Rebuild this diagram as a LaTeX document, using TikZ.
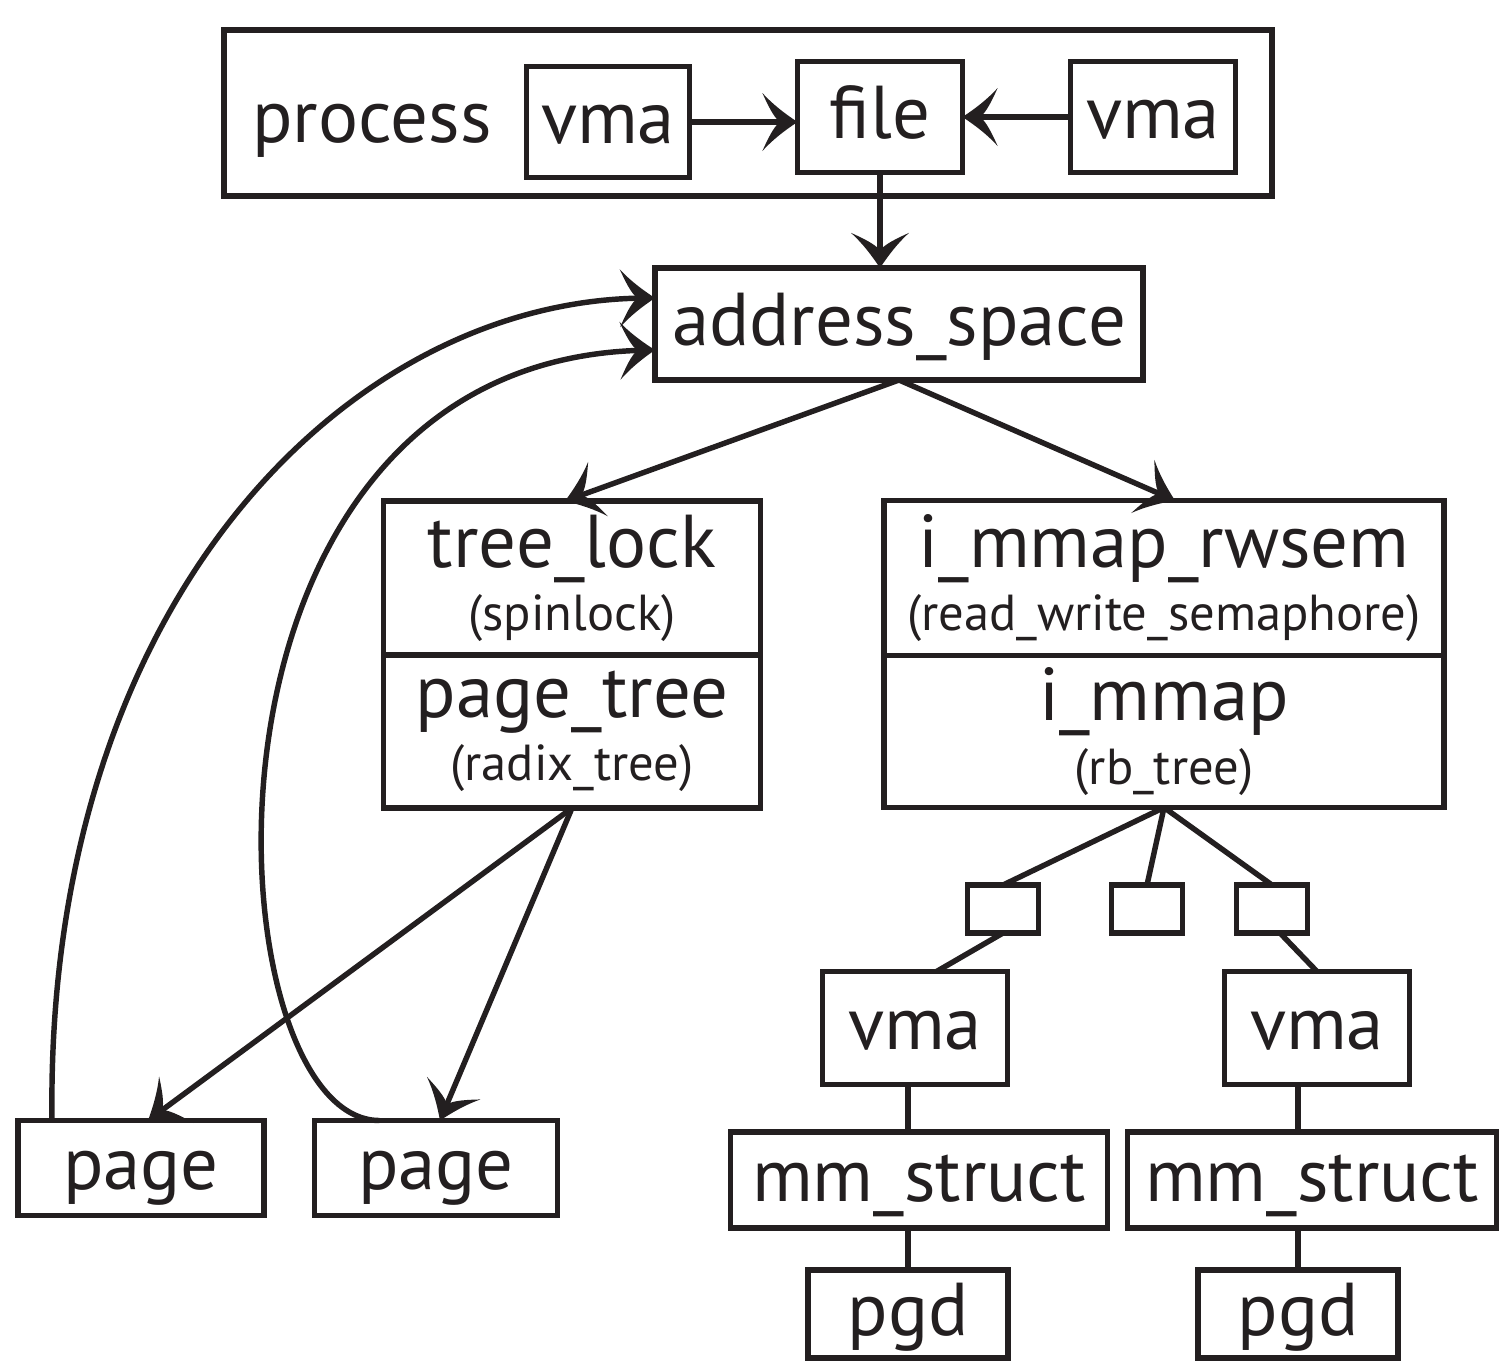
\documentclass[tikz,border=0pt]{standalone}
\usepackage{fontspec}
\setmainfont{PT Sans}
\usetikzlibrary{arrows.meta}

\definecolor{ink}{RGB}{35,31,32}

% swept barb head with curved flanks
\pgfdeclarearrow{
  name = Barb,
  defaults = {length = 9pt, width = 16pt},
  setup code = {
    \pgfarrowssettipend{0pt}
    \pgfarrowssetlineend{-0.3\pgfarrowlength}
    \pgfarrowsupperhullpoint{-\pgfarrowlength}{0.5\pgfarrowwidth}
    \pgfarrowshullpoint{0pt}{0pt}
    \pgfarrowssavethe\pgfarrowlength
    \pgfarrowssavethe\pgfarrowwidth
  },
  drawing code = {
    \pgfpathmoveto{\pgfqpoint{0pt}{0pt}}
    \pgfpathcurveto{\pgfqpoint{-0.35\pgfarrowlength}{0.14\pgfarrowwidth}}{\pgfqpoint{-0.7\pgfarrowlength}{0.3\pgfarrowwidth}}{\pgfqpoint{-\pgfarrowlength}{0.5\pgfarrowwidth}}
    \pgfpathcurveto{\pgfqpoint{-0.85\pgfarrowlength}{0.3\pgfarrowwidth}}{\pgfqpoint{-0.68\pgfarrowlength}{0.08\pgfarrowwidth}}{\pgfqpoint{-0.5\pgfarrowlength}{0pt}}
    \pgfpathcurveto{\pgfqpoint{-0.68\pgfarrowlength}{-0.08\pgfarrowwidth}}{\pgfqpoint{-0.85\pgfarrowlength}{-0.3\pgfarrowwidth}}{\pgfqpoint{-\pgfarrowlength}{-0.5\pgfarrowwidth}}
    \pgfpathcurveto{\pgfqpoint{-0.7\pgfarrowlength}{-0.3\pgfarrowwidth}}{\pgfqpoint{-0.35\pgfarrowlength}{-0.14\pgfarrowwidth}}{\pgfqpoint{0pt}{0pt}}
    \pgfpathclose
    \pgfusepathqfill
  },
  parameters = {\the\pgfarrowlength,\the\pgfarrowwidth},
}

\tikzset{
    box/.style={draw=ink, line width=1.55pt, inner sep=0pt, outer sep=0pt, text=ink, align=center},
    solo/.style={box, text height=16pt, text depth=4pt},
    big/.style={font=\fontsize{21.3}{23}\selectfont},
    link/.style={color=ink, line width=1.55pt},
    arr/.style={link, -{Barb[length=10pt,width=16.5pt]}},
}
\newcommand{\sub}[1]{{\fontsize{14.4}{16}\selectfont #1}}

\begin{document}
\begin{tikzpicture}[x=0.1mm, y=-0.1mm, big]
    \useasboundingbox (0,0) rectangle (1500,1361);

    % process with its two vmas and the file
    \node[box, minimum width=104.8mm, minimum height=16.6mm] (proc) at (748,113) {};
    \node[solo, draw=none] (ptext) at (372,121) {process};
    \node[solo, minimum width=16.3mm, minimum height=11.1mm] (vmaA) at (608,122) {vma};
    \node[solo, minimum width=16.5mm, minimum height=11.1mm] (file) at (880,117) {file};
    \node[solo, minimum width=16.5mm, minimum height=11.1mm] (vmaB) at (1153,117) {vma};

    \node[solo, minimum width=48.8mm, minimum height=11.2mm] (addr) at (899,324) {address\_space};

    % left side: lock + radix tree
    \node[box, minimum width=37.7mm, minimum height=15.4mm] (tl) at (572,578) {tree\_lock\\[-5pt]\sub{(spinlock)}};
    \node[box, minimum width=37.7mm, minimum height=15.3mm, anchor=north] (pt) at (tl.south) {page\_tree\\[-5pt]\sub{(radix\_tree)}};

    % right side: semaphore + rb tree
    \node[box, minimum width=56mm, minimum height=15.5mm] (rw) at (1164,578) {i\_mmap\_rwsem\\[-5pt]\sub{(read\_write\_semaphore)}};
    \node[box, minimum width=56mm, minimum height=15.2mm, anchor=north] (im) at (rw.south) {i\_mmap\\[-5pt]\sub{(rb\_tree)}};

    \node[box, minimum width=7.1mm, minimum height=4.8mm] (sA) at (1003,909) {};
    \node[box, minimum width=7.1mm, minimum height=4.8mm] (sB) at (1147,909) {};
    \node[box, minimum width=7.1mm, minimum height=4.8mm] (sC) at (1272,909) {};

    \node[solo, minimum width=18.5mm, minimum height=11.3mm] (vmaL) at (915,1028) {vma};
    \node[solo, minimum width=18.5mm, minimum height=11.3mm] (vmaR) at (1317,1028) {vma};
    \node[solo, minimum width=37.7mm, minimum height=9.6mm] (mmL) at (919,1180) {mm\_struct};
    \node[solo, minimum width=36.9mm, minimum height=9.6mm] (mmR) at (1312,1180) {mm\_struct};
    \node[solo, minimum width=20mm, minimum height=8.8mm] (pgdL) at (908,1314) {pgd};
    \node[solo, minimum width=20mm, minimum height=8.8mm] (pgdR) at (1298,1314) {pgd};

    \node[solo, minimum width=24.6mm, minimum height=9.5mm] (pageA) at (141,1168) {page};
    \node[solo, minimum width=24.3mm, minimum height=9.5mm] (pageB) at (436,1168) {page};

    % arrows
    \draw[arr] (vmaA) -- (vmaA -| file.west);
    \draw[arr] (vmaB.west) -- (vmaB.west -| file.east);
    \draw[arr] (file.south) -- (file.south |- addr.north);
    \draw[arr] (addr.south) -- ([xshift=-0.7mm]tl.north);
    \draw[arr] (addr.south) -- ([xshift=1.1mm]rw.north);
    \draw[arr] (pt.south) -- ([xshift=0.7mm]pageA.north);
    \draw[arr] (pt.south) -- ([xshift=0.4mm]pageB.north);

    % pages point back at the mapping
    \draw[arr] ([xshift=3.4mm]pageA.north west) .. controls +(-7,-521) and +(-305,2) .. ([yshift=2.6mm]addr.west);
    \draw[arr] ([xshift=6.5mm]pageB.north west) .. controls +(-170,0) and +(-490,10) .. ([yshift=-2.6mm]addr.west);

    % rb tree nodes down to pgd
    \draw[link] (im.south) -- (sA.north);
    \draw[link] (im.south) -- (sB.north);
    \draw[link] (im.south) -- (sC.north);
    \draw[link] (sA.south) -- ([xshift=11.4mm]vmaL.north west);
    \draw[link] ([xshift=0.8mm]sC.south) -- (vmaR.north);
    \draw[link] (vmaL.south -| pgdL) -- (mmL.north -| pgdL);
    \draw[link] (mmL.south -| pgdL) -- (pgdL.north);
    \draw[link] (vmaR.south -| pgdR) -- (mmR.north -| pgdR);
    \draw[link] (mmR.south -| pgdR) -- (pgdR.north);
\end{tikzpicture}
\end{document}
